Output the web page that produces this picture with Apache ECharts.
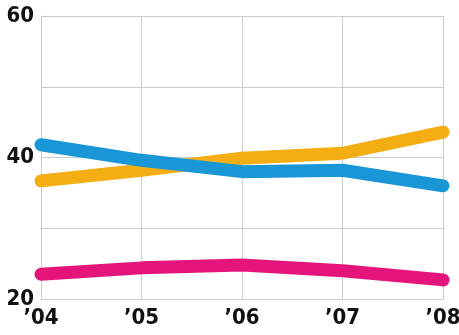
<!DOCTYPE html>
<html lang="en">
<head>
	<meta charset="UTF-8" />
	<title>Three lines, 2004-2008</title>
	<script src="https://cdn.jsdelivr.net/npm/echarts@6/dist/echarts.min.js"></script>
	<style>
		html, body { margin: 0; padding: 0; background: #fff; }
		#main { width: 459px; height: 335px; }
	</style>
</head>
<body>
<div id="main"></div>
<script>
	// data
	var years = ['\u201904', '\u201905', '\u201906', '\u201907', '\u201908'];
	var yLabels = [20, 40, 60];
	var orange = [36.7, 38.2, 39.9, 40.6, 43.6];
	var blue = [41.8, 39.6, 38.0, 38.2, 36.0];
	var pink = [23.5, 24.4, 24.8, 24.0, 22.7];

	var gridColor = '#c9cfca';
	var labelFont = {
		color: '#111',
		fontFamily: "'DejaVu Sans Condensed', 'DejaVu Sans', sans-serif",
		fontWeight: 'bold',
		fontSize: 22
	};

	function line(name, data, color) {
		return {
			name: name,
			type: 'line',
			data: data,
			showSymbol: false,
			lineStyle: { color: color, width: 13, cap: 'round', join: 'round' },
			itemStyle: { color: color },
			z: 3
		};
	}

	var mychart = echarts.init(document.getElementById('main'));
	mychart.setOption({
		animation: false,
		grid: { left: 41, right: 16, top: 16, bottom: 36, outerBoundsMode: 'none' },
		xAxis: {
			type: 'category',
			data: years,
			boundaryGap: false,
			axisLine: { lineStyle: { color: gridColor } },
			axisTick: { show: false },
			splitLine: { show: true, lineStyle: { color: gridColor, width: 1 } },
			axisLabel: Object.assign({ margin: 8, interval: 0 }, labelFont)
		},
		yAxis: {
			type: 'value',
			min: 20,
			max: 60,
			interval: 10,
			axisLine: { show: true, lineStyle: { color: gridColor } },
			axisTick: { show: false },
			splitLine: { lineStyle: { color: gridColor, width: 1 } },
			axisLabel: Object.assign({
				margin: 7,
				formatter: function (v) { return yLabels.indexOf(v) >= 0 ? String(v) : ''; }
			}, labelFont)
		},
		series: [
			line('pink', pink, '#e5147a'),
			line('orange', orange, '#f4ae13'),
			line('blue', blue, '#1896d6')
		]
	});
</script>
</body>
</html>
